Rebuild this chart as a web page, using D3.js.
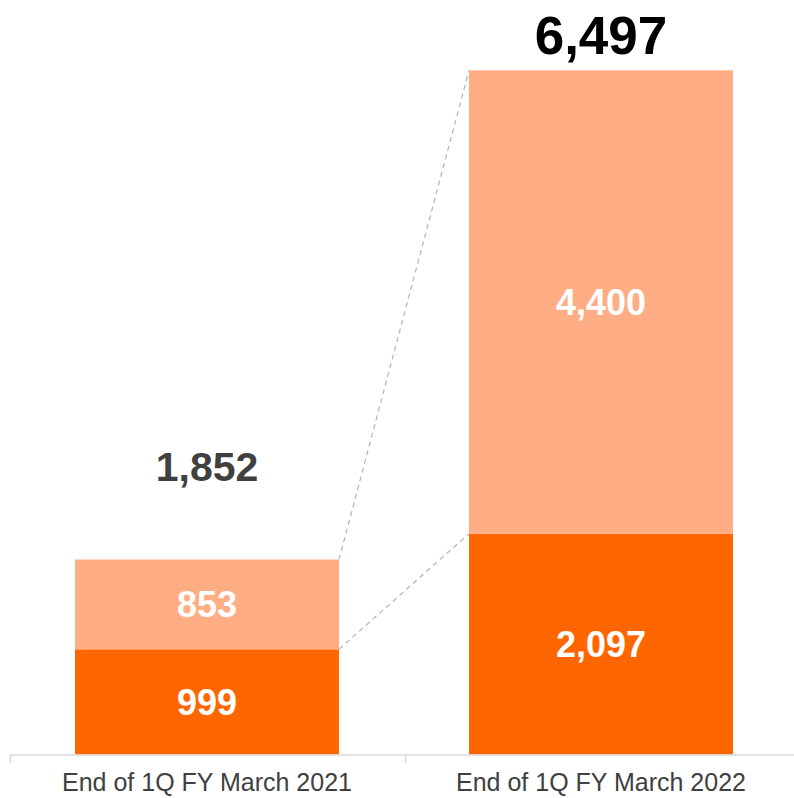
<!DOCTYPE html>
<html>
<head>
<meta charset="utf-8">
<script src="https://cdn.jsdelivr.net/npm/d3@7"></script>
<style>
  html, body { margin: 0; padding: 0; background: #fff; }
  svg { display: block; font-family: "Liberation Sans", Arial, sans-serif; }
</style>
</head>
<body>
<svg id="chart" width="794" height="798"></svg>
<script>
// Period categories along the x axis
const categories = ["End of 1Q FY March 2021", "End of 1Q FY March 2022"];
// Stacked series: lower (dark) and upper (light) segments
const lowerValues = [999, 2097];
const upperValues = [853, 4400];
const totals = [1852, 6497];

const svg = d3.select("#chart");

const x = d3.scaleBand()
  .domain(categories)
  .range([10, 798])
  .paddingInner(0.33)
  .paddingOuter(0.165);

const y = d3.scaleLinear()
  .domain([0, 6497])
  .range([754.5, 70.3]);

const data = categories.map((c, i) => ({
  cat: c, lower: lowerValues[i], upper: upperValues[i], total: totals[i]
}));

const stack = d3.stack().keys(["lower", "upper"]);
const series = stack(data);
const colors = { lower: "#FF6600", upper: "#FFAD85" };

// Dashed connector lines between stacked segment tops
const conn = svg.append("g").attr("stroke", "#B4B4B4").attr("stroke-width", 1.2)
  .attr("stroke-dasharray", "5,4").attr("fill", "none");
series.forEach(s => {
  const a = s[0], b = s[1];
  conn.append("line")
    .attr("x1", x(categories[0]) + x.bandwidth())
    .attr("y1", y(a[1]))
    .attr("x2", x(categories[1]))
    .attr("y2", y(b[1]));
});

// Bars
series.forEach(s => {
  svg.append("g").selectAll("rect").data(s).join("rect")
    .attr("x", d => x(d.data.cat))
    .attr("y", d => y(d[1]))
    .attr("width", x.bandwidth())
    .attr("height", d => y(d[0]) - y(d[1]))
    .attr("fill", colors[s.key]);
});

// Segment value labels
const fmt = d3.format(",");
series.forEach(s => {
  svg.append("g").selectAll("text").data(s).join("text")
    .attr("x", d => x(d.data.cat) + x.bandwidth() / 2)
    .attr("y", d => (y(d[0]) + y(d[1])) / 2)
    .attr("dy", "0.36em")
    .attr("text-anchor", "middle")
    .attr("fill", "#fff")
    .attr("font-weight", "bold")
    .attr("font-size", 36)
    .text(d => fmt(d.data[s.key]));
});

// Totals above the bars
svg.append("text")
  .attr("x", x(categories[0]) + x.bandwidth() / 2)
  .attr("y", y(totals[0]) - 93)
  .attr("dy", "0.36em")
  .attr("text-anchor", "middle")
  .attr("fill", "#404040")
  .attr("font-weight", "bold")
  .attr("font-size", 41)
  .text(fmt(totals[0]));

svg.append("text")
  .attr("x", x(categories[1]) + x.bandwidth() / 2)
  .attr("y", y(totals[1]) - 35)
  .attr("dy", "0.36em")
  .attr("text-anchor", "middle")
  .attr("fill", "#000")
  .attr("font-weight", "bold")
  .attr("font-size", 53)
  .text(fmt(totals[1]));

// Category axis
const axis = svg.append("g").attr("transform", "translate(0,755)");
axis.append("line").attr("x1", 10).attr("x2", 794).attr("y1", 0).attr("y2", 0)
  .attr("stroke", "#D9D9D9").attr("stroke-width", 1.5);
[10, 405].forEach(tx => {
  axis.append("line").attr("x1", tx + 0.5).attr("x2", tx + 0.5).attr("y1", 0).attr("y2", 8)
    .attr("stroke", "#D9D9D9").attr("stroke-width", 1.5);
});
axis.selectAll("text.cat").data(categories).join("text")
  .attr("class", "cat")
  .attr("x", d => x(d) + x.bandwidth() / 2)
  .attr("y", 36)
  .attr("text-anchor", "middle")
  .attr("fill", "#404040")
  .attr("font-size", 25)
  .text(d => d);
</script>
</body>
</html>
